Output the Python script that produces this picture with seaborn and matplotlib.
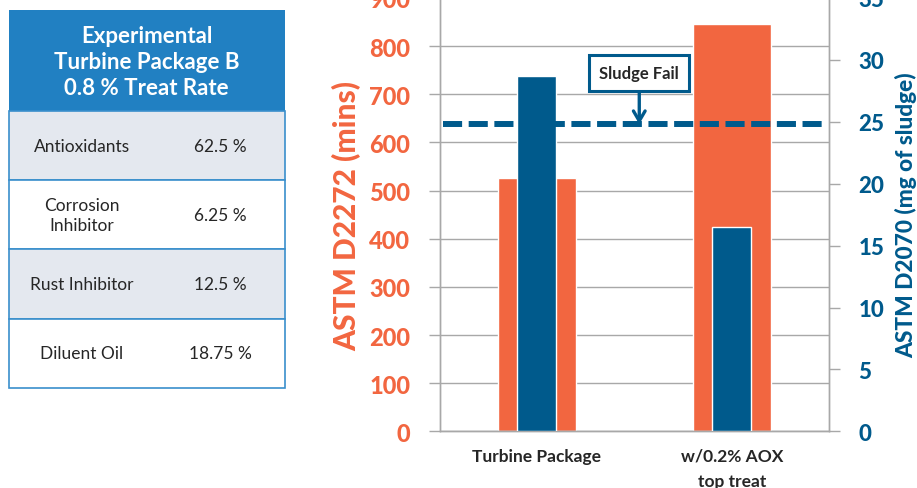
import matplotlib
matplotlib.use("Agg")
import matplotlib.pyplot as plt
import seaborn as sns
import pandas as pd
from matplotlib.patches import Rectangle

# Oxidation test results
categories = ["Turbine Package", "w/0.2% AOX\ntop treat"]
oxidation_mins = [527, 845]          # ASTM D2272, minutes
sludge_mg = [28.7, 16.5]             # ASTM D2070, mg of sludge
sludge_fail = 24.8                   # sludge fail limit, mg

# Package composition
table_title = "Experimental\nTurbine Package B\n0.8 % Treat Rate"
components = ["Antioxidants", "Corrosion\nInhibitor", "Rust Inhibitor", "Diluent Oil"]
component_pct = ["62.5 %", "6.25 %", "12.5 %", "18.75 %"]

ORANGE = "#F26640"
BLUE = "#005A8C"
HEADER = "#2180C2"
BORDER = "#3A8FCC"
ROW_SHADE = "#E4E8EF"
GRID = "#A8A8A8"
TEXT = "#262626"
HEAVY = 900

sns.set_theme(style="white")
plt.rcParams["font.family"] = ["Lato", "DejaVu Sans"]

W, H = 917, 489
fig = plt.figure(figsize=(W / 100, H / 100), dpi=100)

# ---- chart axes (pixel layout) ----
left, right, bottom, top = 439.5, 829.3, 432.3, -1.0
ax = fig.add_axes([left / W, 1 - bottom / H, (right - left) / W, (bottom - top) / H])

df = pd.DataFrame({"category": categories, "mins": oxidation_mins, "sludge": sludge_mg})

sns.barplot(data=df, x="category", y="mins", color=ORANGE, width=0.4,
            saturation=1, ax=ax, zorder=2)
ax.set_ylim(0, 900)
ax.set_yticks(range(0, 901, 100))
ax.yaxis.grid(True, color=GRID, lw=1)
ax.set_axisbelow(True)

ax2 = ax.twinx()
sns.barplot(data=df, x="category", y="sludge", color=BLUE, width=0.2,
            saturation=1, ax=ax2, zorder=3)
ax2.set_ylim(0, 35)
ax2.set_yticks(range(0, 36, 5))

for a in (ax, ax2):
    a.set_xlim(-0.5, 1.5)
    a.spines["top"].set_visible(False)
    for side in ("left", "right", "bottom"):
        a.spines[side].set_color(GRID)
        a.spines[side].set_linewidth(1)
    a.set_xlabel("")

# category labels, with boundary ticks between categories
ax.set_xticks([0, 1])
ax.set_xticklabels(categories, fontsize=12.5, fontweight="bold", color=TEXT,
                   linespacing=1.7, va="top")
ax.set_xticks([-0.5, 0.5, 1.5], minor=True)
ax.tick_params(axis="x", which="major", length=0, pad=12)
ax.tick_params(axis="x", which="minor", length=5, width=1, color=GRID, direction="out")

ax.tick_params(axis="y", which="major", length=8, width=1, color=GRID,
               direction="out", pad=13, labelsize=17, labelcolor=ORANGE)
for t in ax.get_yticklabels():
    t.set_fontweight(HEAVY)
ax2.tick_params(axis="y", which="major", length=8, width=1, color=GRID,
                direction="out", pad=13, labelsize=16, labelcolor=BLUE)
for t in ax2.get_yticklabels():
    t.set_fontweight(HEAVY)

ax.set_ylabel("ASTM D2272 (mins)", fontsize=21.5, fontweight=HEAVY,
              color=ORANGE, va="center")
ax.yaxis.set_label_coords(-0.238, 0.5)
ax2.set_ylabel("ASTM D2070 (mg of sludge)", fontsize=16.3, fontweight=HEAVY,
               color=BLUE, va="center", rotation=90)
ax2.yaxis.set_label_coords(1.196, 0.5)

# sludge fail limit
ax2.axhline(sludge_fail, xmin=0.008, xmax=0.99, color=BLUE, lw=4.3,
            dashes=(3.2, 1.1), zorder=4)
ax2.annotate("Sludge Fail", xy=(0.525, sludge_fail), xytext=(0.525, 28.95),
             ha="center", va="center", fontsize=12, fontweight="bold", color=TEXT,
             bbox=dict(boxstyle="square,pad=0.6", fc="white", ec=BLUE, lw=2.2),
             arrowprops=dict(arrowstyle="->,head_length=0.6,head_width=0.35",
                             color=BLUE, lw=2.4, shrinkA=0, shrinkB=0),
             zorder=6)

# ---- composition table ----
tab = fig.add_axes([0, 0, 1, 1], zorder=-1)
tab.set_xlim(0, W)
tab.set_ylim(H, 0)
tab.axis("off")

tx0, tx1 = 8.5, 285.0
header_top, header_bot = 11.0, 112.0
row_h = 69.2
col_label, col_value = 82, 220

tab.add_patch(Rectangle((tx0, header_top), tx1 - tx0, header_bot - header_top,
                        fc=HEADER, ec="none"))
tab.text((tx0 + tx1) / 2, (header_top + header_bot) / 2 + 1, table_title,
         ha="center", va="center", color="white", fontsize=16,
         fontweight="bold", linespacing=1.3)

for i, (name, pct) in enumerate(zip(components, component_pct)):
    y0 = header_bot + i * row_h
    fc = ROW_SHADE if i % 2 == 0 else "white"
    tab.add_patch(Rectangle((tx0, y0), tx1 - tx0, row_h, fc=fc, ec=BORDER, lw=1.2))
    tab.text(col_label, y0 + row_h / 2, name, ha="center", va="center",
             fontsize=12.5, color=TEXT, linespacing=1.3)
    tab.text(col_value, y0 + row_h / 2, pct, ha="center", va="center",
             fontsize=12.5, color=TEXT)

fig.savefig("out.png", dpi=100)
